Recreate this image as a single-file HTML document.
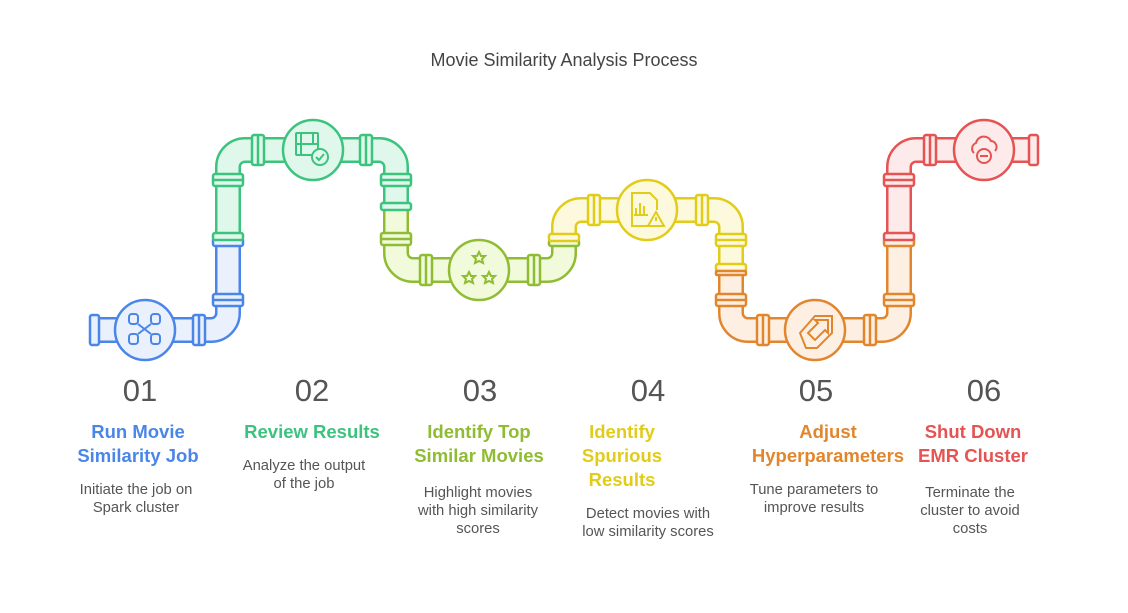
<!DOCTYPE html>
<html><head><meta charset="utf-8"><style>
html,body{margin:0;padding:0;background:#fff;}
svg{display:block;font-family:"Liberation Sans",sans-serif;}
</style></head><body>
<svg width="1128" height="613" viewBox="0 0 1128 613" xmlns="http://www.w3.org/2000/svg">
<rect width="1128" height="613" fill="#fff"/>
<text x="564" y="66" text-anchor="middle" font-size="18" fill="#444">Movie Similarity Analysis Process</text>
<g fill="none" stroke-linecap="butt">
<path d="M90,330 H211 A17,17 0 0 0 228,313 V237" stroke="#4a86e8" stroke-width="26"/>
<path d="M90,330 H211 A17,17 0 0 0 228,313 V237" stroke="#eaf1fd" stroke-width="21"/>
<path d="M228,237 V167 A17 17 0 0 1 245,150 H379 A17 17 0 0 1 396,167 V207" stroke="#3cc37e" stroke-width="26"/>
<path d="M228,237 V167 A17 17 0 0 1 245,150 H379 A17 17 0 0 1 396,167 V207" stroke="#e0f8ec" stroke-width="21"/>
<path d="M396,207 V253 A17 17 0 0 0 413,270 H547 A17 17 0 0 0 564,253 V240" stroke="#8fbc33" stroke-width="26"/>
<path d="M396,207 V253 A17 17 0 0 0 413,270 H547 A17 17 0 0 0 564,253 V240" stroke="#f1fbdc" stroke-width="21"/>
<path d="M564,240 V227 A17 17 0 0 1 581,210 H714 A17 17 0 0 1 731,227 V270" stroke="#e2cc1a" stroke-width="26"/>
<path d="M564,240 V227 A17 17 0 0 1 581,210 H714 A17 17 0 0 1 731,227 V270" stroke="#fdf9dc" stroke-width="21"/>
<path d="M731,270 V313 A17 17 0 0 0 748,330 H882 A17 17 0 0 0 899,313 V237" stroke="#e2862e" stroke-width="26"/>
<path d="M731,270 V313 A17 17 0 0 0 748,330 H882 A17 17 0 0 0 899,313 V237" stroke="#fdf0e3" stroke-width="21"/>
<path d="M899,237 V167 A17 17 0 0 1 916,150 H1035" stroke="#e55353" stroke-width="26"/>
<path d="M899,237 V167 A17 17 0 0 1 916,150 H1035" stroke="#fdeaea" stroke-width="21"/>
</g>
<g stroke-width="2.5">
<g stroke="#4a86e8" fill="#eaf1fd"><rect x="90" y="315" width="9" height="30" rx="2"/><rect x="193" y="315" width="12" height="30" rx="2"/><line x1="199" y1="315" x2="199" y2="345"/></g>
<g stroke="#3cc37e" fill="#e0f8ec"><rect x="252" y="135" width="12" height="30" rx="2"/><line x1="258" y1="135" x2="258" y2="165"/><rect x="360" y="135" width="12" height="30" rx="2"/><line x1="366" y1="135" x2="366" y2="165"/></g>
<g stroke="#8fbc33" fill="#f1fbdc"><rect x="420" y="255" width="12" height="30" rx="2"/><line x1="426" y1="255" x2="426" y2="285"/><rect x="528" y="255" width="12" height="30" rx="2"/><line x1="534" y1="255" x2="534" y2="285"/></g>
<g stroke="#e2cc1a" fill="#fdf9dc"><rect x="588" y="195" width="12" height="30" rx="2"/><line x1="594" y1="195" x2="594" y2="225"/><rect x="696" y="195" width="12" height="30" rx="2"/><line x1="702" y1="195" x2="702" y2="225"/></g>
<g stroke="#e2862e" fill="#fdf0e3"><rect x="757" y="315" width="12" height="30" rx="2"/><line x1="763" y1="315" x2="763" y2="345"/><rect x="864" y="315" width="12" height="30" rx="2"/><line x1="870" y1="315" x2="870" y2="345"/></g>
<g stroke="#e55353" fill="#fdeaea"><rect x="924" y="135" width="12" height="30" rx="2"/><line x1="930" y1="135" x2="930" y2="165"/><rect x="1029" y="135" width="9" height="30" rx="2"/></g>
<g stroke="#4a86e8" fill="#eaf1fd"><rect x="213" y="294" width="30" height="12" rx="2"/><line x1="213" y1="300" x2="243" y2="300"/><rect x="213" y="238" width="30" height="8" rx="2"/></g>
<g stroke="#3cc37e" fill="#e0f8ec"><rect x="213" y="233" width="30" height="7" rx="2"/><rect x="213" y="174" width="30" height="12" rx="2"/><line x1="213" y1="180" x2="243" y2="180"/><rect x="381" y="174" width="30" height="12" rx="2"/><line x1="381" y1="180" x2="411" y2="180"/><rect x="381" y="203" width="30" height="7" rx="2"/></g>
<g stroke="#8fbc33" fill="#f1fbdc"><rect x="381" y="233" width="30" height="12" rx="2"/><line x1="381" y1="239" x2="411" y2="239"/><rect x="549" y="240" width="30" height="6" rx="2"/></g>
<g stroke="#e2cc1a" fill="#fdf9dc"><rect x="549" y="234" width="30" height="7" rx="2"/><rect x="716" y="234" width="30" height="12" rx="2"/><line x1="716" y1="240" x2="746" y2="240"/><rect x="716" y="264" width="30" height="7" rx="2"/></g>
<g stroke="#e2862e" fill="#fdf0e3"><rect x="716" y="271" width="30" height="4" rx="1"/><rect x="716" y="294" width="30" height="12" rx="2"/><line x1="716" y1="300" x2="746" y2="300"/><rect x="884" y="294" width="30" height="12" rx="2"/><line x1="884" y1="300" x2="914" y2="300"/><rect x="884" y="238" width="30" height="8" rx="2"/></g>
<g stroke="#e55353" fill="#fdeaea"><rect x="884" y="233" width="30" height="7" rx="2"/><rect x="884" y="174" width="30" height="12" rx="2"/><line x1="884" y1="180" x2="914" y2="180"/></g>
<circle cx="145" cy="330" r="30" stroke="#4a86e8" fill="#eaf1fd"/>
<circle cx="313" cy="150" r="30" stroke="#3cc37e" fill="#e0f8ec"/>
<circle cx="479" cy="270" r="30" stroke="#8fbc33" fill="#f1fbdc"/>
<circle cx="647" cy="210" r="30" stroke="#e2cc1a" fill="#fdf9dc"/>
<circle cx="815" cy="330" r="30" stroke="#e2862e" fill="#fdf0e3"/>
<circle cx="984" cy="150" r="30" stroke="#e55353" fill="#fdeaea"/>
</g>
<g fill="none" stroke-width="2">
<g stroke="#4a86e8"><rect x="129" y="314" width="9" height="10" rx="3"/><rect x="151" y="314" width="9" height="10" rx="3"/><rect x="129" y="334" width="9" height="10" rx="3"/><rect x="151" y="334" width="9" height="10" rx="3"/><line x1="138" y1="324" x2="151" y2="334"/><line x1="151" y1="324" x2="138" y2="334"/></g>
<g stroke="#3cc37e"><rect x="296" y="133" width="22" height="22" rx="1"/><line x1="301" y1="133" x2="301" y2="155"/><line x1="313" y1="133" x2="313" y2="145"/><line x1="296" y1="144" x2="318" y2="144"/><circle cx="320" cy="157" r="8" fill="#e0f8ec"/><path d="M316,157 l3,3 l5,-6"/></g>
<g stroke="#8fbc33"><path d="M479,252 l2,4 4,0 -3,3 1,4 -4,-2 -4,2 1,-4 -3,-3 4,0z"/><path d="M469,272 l2,4 4,0 -3,3 1,4 -4,-2 -4,2 1,-4 -3,-3 4,0z"/><path d="M489,272 l2,4 4,0 -3,3 1,4 -4,-2 -4,2 1,-4 -3,-3 4,0z"/></g>
<g stroke="#e2cc1a"><path d="M652,226 H632 V193 H650 L657,200 V210"/><path d="M636,215 V208 M640,215 V203 M644,215 V206 M634,215 H648"/><path d="M656,212 L648,226 H664 Z" fill="#fdf9dc"/><line x1="656" y1="217" x2="656" y2="221"/></g>
<g stroke="#e2862e"><path d="M800,333 L815,316 H832 V333 L817,348 H806 Z"/><path d="M808,333 L818,323 L815,320 H828 V333 L825,330 L815,340 Z"/></g>
<g stroke="#e55353"><path d="M974,153 a6,6 0 0 1 2,-10 a8,8 0 0 1 15,-2 a6,6 0 0 1 4,10"/><circle cx="984" cy="156" r="7"/><line x1="980" y1="156" x2="988" y2="156"/></g>
</g>
<g font-size="31" fill="#555" text-anchor="middle">
<text x="140" y="401">01</text><text x="312" y="401">02</text><text x="480" y="401">03</text><text x="648" y="401">04</text><text x="816" y="401">05</text><text x="984" y="401">06</text>
</g>
<g font-size="18.5" font-weight="bold" text-anchor="middle">
<text fill="#4a86e8"><tspan x="138" y="438">Run Movie</tspan><tspan x="138" y="462">Similarity Job</tspan></text>
<text fill="#3cc37e" x="312" y="438">Review Results</text>
<text fill="#8fbc33"><tspan x="479" y="438">Identify Top</tspan><tspan x="479" y="462">Similar Movies</tspan></text>
<text fill="#e2cc1a"><tspan x="622" y="438">Identify</tspan><tspan x="622" y="462">Spurious</tspan><tspan x="622" y="486">Results</tspan></text>
<text fill="#e2862e"><tspan x="828" y="438">Adjust</tspan><tspan x="828" y="462">Hyperparameters</tspan></text>
<text fill="#e55353"><tspan x="973" y="438">Shut Down</tspan><tspan x="973" y="462">EMR Cluster</tspan></text>
</g>
<g font-size="14.8" fill="#555" text-anchor="middle">
<text><tspan x="136" y="494">Initiate the job on</tspan><tspan x="136" y="512">Spark cluster</tspan></text>
<text><tspan x="304" y="470">Analyze the output</tspan><tspan x="304" y="488">of the job</tspan></text>
<text><tspan x="478" y="497">Highlight movies</tspan><tspan x="478" y="515">with high similarity</tspan><tspan x="478" y="533">scores</tspan></text>
<text><tspan x="648" y="518">Detect movies with</tspan><tspan x="648" y="536">low similarity scores</tspan></text>
<text><tspan x="814" y="494">Tune parameters to</tspan><tspan x="814" y="512">improve results</tspan></text>
<text><tspan x="970" y="497">Terminate the</tspan><tspan x="970" y="515">cluster to avoid</tspan><tspan x="970" y="533">costs</tspan></text>
</g>
</svg>
</body></html>
